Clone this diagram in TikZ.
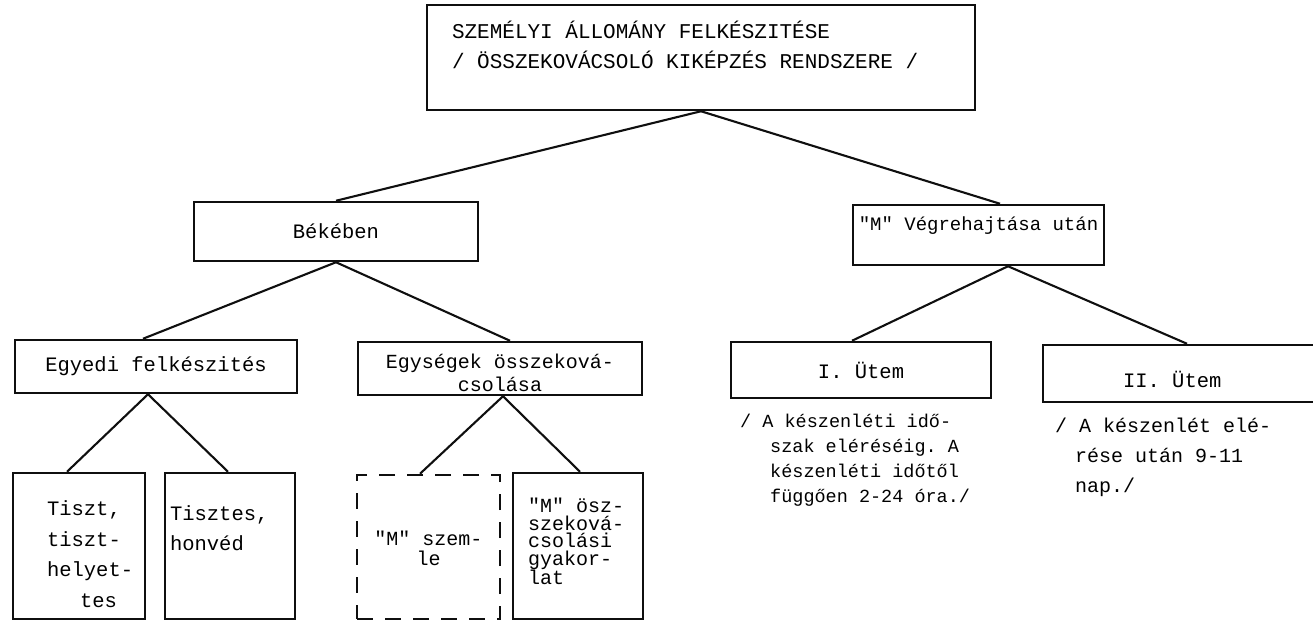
\documentclass[tikz,border=0pt]{standalone}
\usepackage{fontspec}
\setmonofont{Liberation Mono}
\usepackage{xcolor}
\definecolor{Ink}{RGB}{15,15,15}
\usepackage{tikz}
\usetikzlibrary{positioning,calc}
\newcommand{\typed}{\ttfamily\fontsize{20.5}{27}\selectfont}
\tikzset{
  % Typed frame
  tbox/.style={
    rectangle,
    draw=Ink,
    fill=white,
    line width=2.5pt,
    inner sep=0pt,
    font=\typed,
    execute at begin node={\spaceskip=\fontdimen2\font\xspaceskip=\fontdimen2\font}
  },
  % Dashed frame
  dbox/.style={tbox, dash pattern=on 16pt off 12pt},
  % Connector
  edge/.style={
    draw=Ink,
    line width=2.1pt
  },
  % Note under a box
  note/.style={anchor=base west, align=left, inner sep=0pt,
    execute at begin node={\spaceskip=\fontdimen2\font\xspaceskip=\fontdimen2\font}}
}

\begin{document}
\begin{tikzpicture}[x=1pt, y=-1pt]
  \useasboundingbox (0,0) rectangle (1313,621);

  % Top
  \node[tbox, minimum width=548pt, minimum height=105pt, text width=498pt, align=left,
        text height=15pt, text depth=54pt, font={\ttfamily\fontsize{21}{30}\selectfont}] (root) at (701,57.5)
    {SZEMÉLYI ÁLLOMÁNY FELKÉSZITÉSE\\/ ÖSSZEKOVÁCSOLÓ KIKÉPZÉS RENDSZERE /};

  % Second row
  \node[tbox, minimum width=284pt, minimum height=59pt] (beke) at (336,231.5) {Békében};
  \node[tbox, minimum width=251pt, minimum height=60pt, text height=14pt, text depth=23pt,
        font={\ttfamily\fontsize{19}{27}\selectfont}] (mvegre) at (978.5,235) {"M" Végrehajtása után};

  % Third row
  \node[tbox, minimum width=282pt, minimum height=53pt] (egyedi) at (156,366.5) {Egyedi felkészités};
  \node[tbox, minimum width=284pt, minimum height=53pt, text width=270pt, align=center,
        text height=21pt, text depth=22pt, font={\ttfamily\fontsize{20}{23}\selectfont}] (egyseg) at (500,368.5)
    {Egységek összeková-\\csolása};
  \node[tbox, minimum width=260pt, minimum height=56pt] (utem1) at (861,370) {I. Ütem};
  \node[tbox, minimum width=297pt, minimum height=57pt, text width=137pt, align=left,
        text height=41pt, text depth=13pt] (utem2) at (1191.5,373.5) {II. Ütem};

  % Bottom row
  \node[tbox, minimum width=132pt, minimum height=146pt, text width=64pt, align=left,
        text height=15pt, text depth=76pt, font={\ttfamily\fontsize{20.5}{30.5}\selectfont}] (tiszt) at (79,546)
    {Tiszt,\\\mbox{tiszt-}\\\mbox{helyet-}\\\hspace*{33pt}tes};
  \node[tbox, minimum width=130pt, minimum height=146pt, text width=120pt, align=left,
        text height=15pt, text depth=66pt, font={\ttfamily\fontsize{20.5}{30}\selectfont}] (tisztes) at (230,546)
    {Tisztes,\\honvéd};
  \node[dbox, minimum width=143pt, minimum height=144pt, text width=130pt, align=center,
        text height=20pt, text depth=24pt, font={\ttfamily\fontsize{20}{20}\selectfont}] (szemle) at (428.5,547)
    {"M" szem-\\le};
  \node[tbox, minimum width=130pt, minimum height=146pt, text width=100pt, align=left,
        text height=15pt, text depth=82pt, font={\ttfamily\fontsize{20}{17.5}\selectfont}] (osszek) at (578,546)
    {"M" ösz-\\\mbox{szeková-}\\csolási\\\mbox{gyakor-}\\lat};

  % Notes
  \node[note, text width=300pt, font={\ttfamily\fontsize{18.5}{25}\selectfont}] (note1) at (740,427.5)
    {/ A készenléti idő-\\\hspace*{30pt}szak eléréséig. A\\\hspace*{30pt}készenléti időtől\\\hspace*{30pt}függően 2-24 óra./};
  \node[note, text width=250pt, font={\ttfamily\fontsize{20}{30}\selectfont}] (note2) at (1055,432.5)
    {/ A készenlét elé-\\\hspace*{20pt}rése után 9-11\\\hspace*{20pt}nap./};

  % Connectors
  \draw[edge] (root.south) -- (beke.north);
  \draw[edge] (root.south) -- ([xshift=21.5pt]mvegre.north);
  \draw[edge] (beke.south) -- ([xshift=-13pt]egyedi.north);
  \draw[edge] (beke.south) -- ([xshift=10pt]egyseg.north);
  \draw[edge] ([xshift=-8pt]egyedi.south) -- ([xshift=-12pt]tiszt.north);
  \draw[edge] ([xshift=-8pt]egyedi.south) -- ([xshift=-2pt]tisztes.north);
  \draw[edge] ([xshift=3pt]egyseg.south) -- ([xshift=-8.5pt]szemle.north);
  \draw[edge] ([xshift=3pt]egyseg.south) -- ([xshift=2pt]osszek.north);
  \draw[edge] ([xshift=29.5pt]mvegre.south) -- ([xshift=-9pt]utem1.north);
  \draw[edge] ([xshift=29.5pt]mvegre.south) -- ([xshift=-4.5pt]utem2.north);
\end{tikzpicture}
\end{document}
